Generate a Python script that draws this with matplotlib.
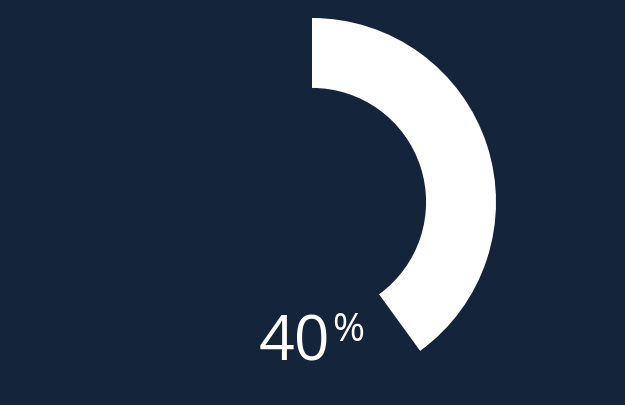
import matplotlib.pyplot as plt

# Data
value = 40
total = 100
label_num = "40"
label_unit = "%"

bg = '#14243a'

fig = plt.figure(figsize=(6.25, 4.05), dpi=100)
fig.patch.set_facecolor(bg)

# axes placed so the ring is centred at (312, 202) px with outer radius 184 px
ax = fig.add_axes([128 / 625, 19 / 405, 368 / 625, 368 / 405])
ax.set_facecolor(bg)
ax.pie([value, total - value], startangle=90, counterclock=False,
       colors=['white', (0, 0, 0, 0)], radius=1.0,
       wedgeprops=dict(width=0.38, linewidth=0))
ax.set_xlim(-1, 1)
ax.set_ylim(-1, 1)
ax.set_aspect('equal')
ax.axis('off')

ax.text(0.098, -0.859, label_num, color='white', fontsize=45,
        family='Open Sans', fontweight='normal', ha='right', va='baseline')
ax.text(0.108, -0.600, label_unit, color='white', fontsize=28,
        family='Open Sans', fontweight='normal', ha='left', va='top')

fig.savefig('out.png', dpi=100, facecolor=bg)
